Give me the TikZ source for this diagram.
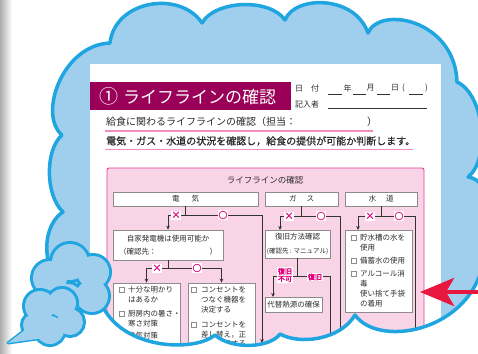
\documentclass[tikz,border=0pt]{standalone}
\usepackage{fontspec}
\setmainfont{Noto Sans CJK JP}[AutoFakeBold=2.5]
\newfontfamily\jpmed{Noto Sans CJK JP}[FakeBold=0.7]
\usetikzlibrary{arrows.meta}
\definecolor{cloudfill}{HTML}{A0CFEE}
\definecolor{cloudline}{HTML}{1FA6E0}
\definecolor{titlebar}{HTML}{9B0058}
\definecolor{pinkfill}{HTML}{F9D4E6}
\definecolor{pinkline}{HTML}{E8409A}
\definecolor{uline}{HTML}{F28DC0}
\definecolor{mag}{HTML}{E4007F}
\definecolor{boxline}{HTML}{8C8C8C}
\definecolor{conn}{HTML}{333333}
\definecolor{redarrow}{HTML}{E8173F}
\definecolor{ink}{HTML}{2B2B2B}
\tikzset{
  bigcloud/.style={insert path={(62,135) .. controls (38,115) and (62,45) .. (110,43)
     .. controls (115,0) and (180,-10) .. (202,23)
     .. controls (215,0) and (270,-2) .. (285,20)
     .. controls (295,-5) and (355,-5) .. (368,33)
     .. controls (380,5) and (455,20) .. (457,82)
     .. controls (485,95) and (490,160) .. (468,177)
     .. controls (495,180) and (500,240) .. (485,250)
     .. controls (480,330) and (380,350) .. (355,315)
     .. controls (340,340) and (300,345) .. (280,334)
     .. controls (270,348) and (232,350) .. (215,335)
     .. controls (195,352) and (125,350) .. (103,307)
     .. controls (40,300) and (35,230) .. (63,212)
     .. controls (45,195) and (45,150) .. (62,135) -- cycle}},
  hdr/.style={draw=boxline, fill=white, line width=0.7pt, inner sep=0pt, minimum height=14pt, text=ink, font=\fontsize{7.5}{9}\selectfont},
  flowbox/.style={draw=boxline, fill=white, line width=0.7pt, inner sep=0pt, text=ink},
  txt/.style={inner sep=0pt, anchor=west, text=ink, font=\fontsize{7.5}{9}\selectfont},
  yn/.style={fill=white, text=mag, inner sep=0.8pt, minimum size=9pt, font=\fontsize{9}{9}\selectfont\bfseries},
  ynlab/.style={fill=white, text=mag, inner sep=0.8pt, align=center, font=\fontsize{7}{7.5}\selectfont\bfseries},
  chk/.style={draw=boxline, fill=white, line width=0.5pt, minimum size=5pt, inner sep=0pt},
  ln/.style={conn, line width=0.8pt},
  arr/.style={conn, line width=0.8pt, -{Stealth[length=4pt,width=3.6pt]}},
  ulpink/.style={uline, line width=1.1pt},
  uldark/.style={conn, line width=0.7pt}
}
\begin{document}
\begin{tikzpicture}[x=1pt,y=-1pt]
\useasboundingbox (0,0) rectangle (478,353);
\fill[white] (0,0) rectangle (478,353);
\shade[left color=black!32, right color=white] (0,0) rectangle (12,353);
% big cloud
\fill[cloudfill, bigcloud];
\begin{scope}
\clip[bigcloud];
% paper
\fill[white] (90,64) rectangle (441,400);
\fill[titlebar] (90,82) rectangle (291,110);
\node[inner sep=0pt, anchor=west, text=white, font=\fontsize{17}{20}\selectfont] (title) at (99,96) {{\fontsize{19}{20}\selectfont ①}\hspace{5pt}ライフラインの確認};
\node[txt, font=\fontsize{8}{9}\selectfont] (dlab) at (295,88) {日\hspace{8pt}付};
\node[txt, font=\fontsize{8}{9}\selectfont] (wlab) at (295,104) {記入者};
\coordinate (u1a) at (328,94); \coordinate (u1b) at (342,94);
\coordinate (u2a) at (353,94); \coordinate (u2b) at (366,94);
\coordinate (u3a) at (377,94); \coordinate (u3b) at (390,94);
\coordinate (u4a) at (409,94); \coordinate (u4b) at (423,94);
\draw[uldark] (u1a) -- (u1b); \draw[uldark] (u2a) -- (u2b);
\draw[uldark] (u3a) -- (u3b); \draw[uldark] (u4a) -- (u4b);
\node[txt, font=\fontsize{8}{9}\selectfont] (nen) at (343.5,88) {年};
\node[txt, font=\fontsize{8}{9}\selectfont] (tsuki) at (366.5,88) {月};
\node[txt, font=\fontsize{8}{9}\selectfont] (hi) at (391,88) {日};
\node[txt, font=\fontsize{8}{9}\selectfont] (pl) at (402,88) {(};
\node[txt, font=\fontsize{8}{9}\selectfont] (pr) at (425,88) {)};
\coordinate (u5a) at (328,108); \coordinate (u5b) at (427,108);
\draw[uldark] (u5a) -- (u5b);
% lines 1,2
\node[txt, font=\fontsize{10}{12}\selectfont] (l1) at (106,122) {給食に関わるライフラインの確認（担当：};
\node[txt, font=\fontsize{10}{12}\selectfont] (l1r) at (367,122) {）};
\coordinate (ul1a) at (105,131); \coordinate (ul1b) at (373,131);
\draw[ulpink] (ul1a) -- (ul1b);
\node[txt, font=\jpmed\fontsize{10}{12}\selectfont] (l2) at (106,141) {電気・ガス・水道の状況を確認し，給食の提供が可能か判断します。};
\coordinate (ul2a) at (105,149.5); \coordinate (ul2b) at (413,149.5);
\draw[ulpink] (ul2a) -- (ul2b);
% pink box
\draw[pinkline, fill=pinkfill, line width=0.9pt, rounded corners=2pt] (107,168) rectangle (424,400);
\node[inner sep=0pt, text=ink, font=\fontsize{8.5}{10}\selectfont] (lltitle) at (265,180) {ライフラインの確認};
% headers
\node[hdr, minimum width=145pt] (elec) at (185.5,199) {電\hspace{12pt}気};
\node[hdr, minimum width=73pt] (gas) at (301.5,199) {ガ\hspace{10pt}ス};
\node[hdr, minimum width=72pt] (water) at (381,199) {水\hspace{10pt}道};
% electricity
\coordinate (ej) at (185.5,215);
\node[flowbox, minimum width=110pt, minimum height=30pt, align=center, font=\fontsize{7.5}{13.5}\selectfont] (gen) at (168,245) {自家発電機は使用可能か\\（確認先：\hspace{53pt}）};
\coordinate (eo) at (262,343);
\draw[ln] (elec.south) -- (ej);
\draw[arr] (ej) -| (gen.north);
\draw[arr] (ej) -| (eo);
\node[yn] (ex) at (176,215) {×};
\node[yn] (eok) at (223,215) {○};
\coordinate (gj) at (168,268);
\node[flowbox, minimum width=67pt, minimum height=97pt] (light) at (146.5,331.5) {};
\node[flowbox, minimum width=67pt, minimum height=97pt] (outlet) at (221.5,331.5) {};
\draw[ln] (gen.south) -- (gj);
\draw[arr] (gj) -| (light.north);
\draw[arr] (gj) -| (outlet.north);
\node[yn] (gx) at (157,268) {×};
\node[yn] (gok) at (197,268) {○};
\node[chk] (c1) at (121.8,290) {};
\node[txt] (t1a) at (128,290) {十分な明かり};
\node[txt] (t1b) at (128,300) {はあるか};
\node[chk] (c2) at (121.8,314) {};
\node[txt] (t1c) at (128,314) {厨房内の暑さ・};
\node[txt] (t1d) at (128,324) {寒さ対策};
\node[txt] (t1e) at (128,336) {換気対策};
\node[chk] (c3) at (194.2,290) {};
\node[txt] (t2a) at (201,290) {コンセントを};
\node[txt] (t2b) at (201,300) {つなぐ機器を};
\node[txt] (t2c) at (201,309.5) {決定する};
\node[chk] (c4) at (194.2,325) {};
\node[txt] (t2d) at (201,325) {コンセントを};
\node[txt] (t2e) at (201,334.5) {差し替え，正};
\node[txt] (t2f) at (201,344) {しく使用する};
% gas
\coordinate (gsj) at (301.5,216);
\node[flowbox, minimum width=65pt, minimum height=28pt, align=center, font=\fontsize{7.5}{14}\selectfont] (restore) at (297.5,244) {復旧方法確認\\{\fontsize{6.5}{8}\selectfont (確認先 : マニュアル)}};
\coordinate (gsa) at (280,230);
\coordinate (gso) at (340,360);
\draw[ln] (gas.south) -- (gsj);
\draw[arr] (gsj) -| (gsa);
\draw[ln] (gsj) -| (gso);
\node[yn] (gsx) at (289,216) {×};
\node[yn] (gsok) at (321,216) {○};
\coordinate (rj) at (297.5,276);
\node[flowbox, minimum width=57pt, minimum height=15pt, font=\fontsize{7.5}{9}\selectfont] (alt) at (293.5,304.5) {代替熱源の確保};
\coordinate (ra) at (273,297);
\coordinate (ro) at (330,360);
\draw[ln] (restore.south) -- (rj);
\draw[arr] (rj) -| (ra);
\draw[ln] (rj) -| (ro);
\node[ynlab] (rng) at (285,275) {復旧\\不可};
\node[ynlab] (rok) at (315,277) {復旧};
% water
\coordinate (wj) at (381,216);
\node[flowbox, minimum width=67pt, minimum height=82pt] (wbox) at (378.5,271) {};
\coordinate (wa) at (358,230);
\coordinate (wo) at (415,360);
\draw[ln] (water.south) -- (wj);
\draw[arr] (wj) -| (wa);
\draw[ln] (wj) -| (wo);
\node[yn] (wx) at (370,216) {×};
\node[yn] (wok) at (399,216) {○};
\node[chk] (c5) at (353.5,238) {};
\node[txt] (t3a) at (360,238) {貯水槽の水を};
\node[txt] (t3b) at (360,247.5) {使用};
\node[chk] (c6) at (353.5,261) {};
\node[txt] (t3c) at (360,261) {備蓄水の使用};
\node[chk] (c7) at (353.5,274) {};
\node[txt] (t3d) at (360,274) {アルコール消};
\node[txt] (t3e) at (360,284) {毒};
\node[txt] (t3f) at (360,294) {使い捨て手袋};
\node[txt] (t3g) at (360,303.5) {の着用};
\end{scope}
\draw[cloudline, line width=3.5pt, line join=round, bigcloud];
% small cloud 1
\foreach \x/\y/\r in {50/278/17, 70/262/18, 93/272/16, 92/296/16, 68/298/14}
  \draw[cloudline, line width=6pt] (\x,\y) circle[radius=\r];
\foreach \x/\y/\r in {50/278/17, 70/262/18, 93/272/16, 92/296/16, 68/298/14}
  \fill[cloudfill] (\x,\y) circle[radius=\r];
% small cloud 2 with tail
\coordinate (ta) at (30,326); \coordinate (tb) at (8,343); \coordinate (tc) at (44,338);
\draw[cloudline, line width=3pt, line join=round, fill=cloudfill] (ta) -- (tb) -- (tc) -- cycle;
\foreach \x/\y/\r in {40/306/15, 62/303/14, 70/322/13, 50/330/14, 34/325/11}
  \draw[cloudline, line width=6pt] (\x,\y) circle[radius=\r];
\fill[cloudfill] (ta) -- (tb) -- (tc) -- cycle;
\foreach \x/\y/\r in {40/306/15, 62/303/14, 70/322/13, 50/330/14, 34/325/11}
  \fill[cloudfill] (\x,\y) circle[radius=\r];
% red arrow
\coordinate (rs) at (486,292);
\coordinate (rt) at (420,292);
\draw[redarrow, line width=4.5pt, -{Stealth[length=34pt,width=28pt,inset=8pt]}] (rs) -- (rt);
\end{tikzpicture}
\end{document}
